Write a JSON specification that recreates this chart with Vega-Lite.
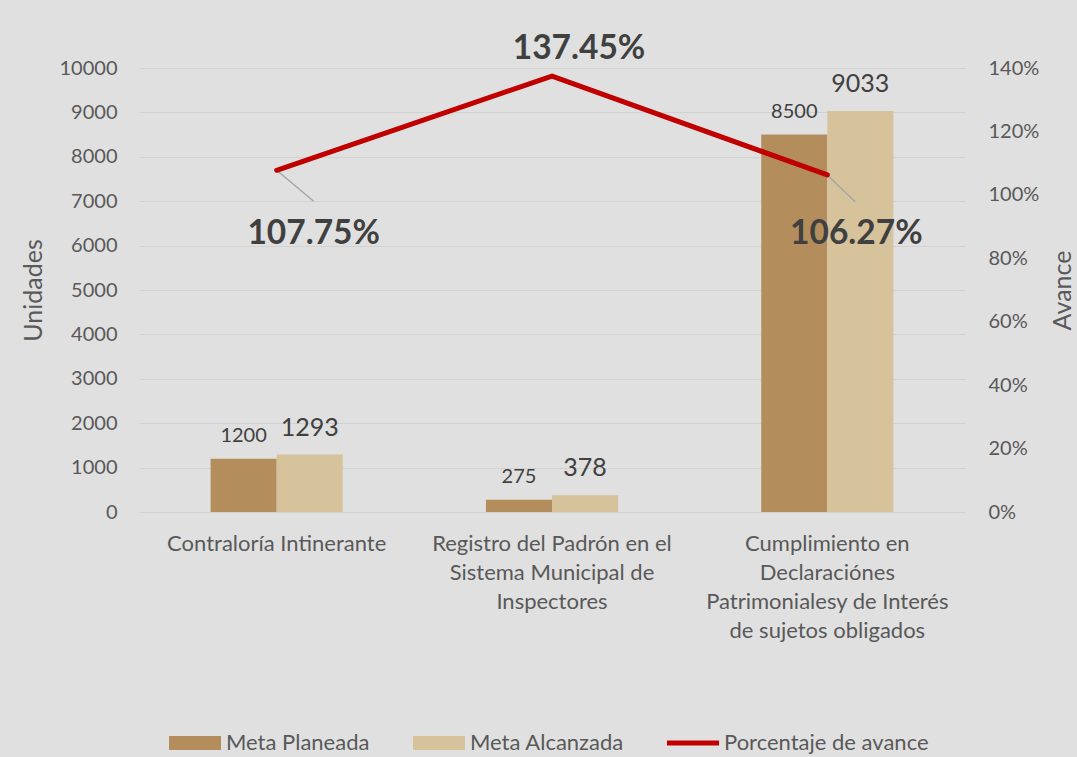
{
  "$schema": "https://vega.github.io/schema/vega-lite/v6.json",
  "width": 826,
  "height": 444,
  "autosize": {"type": "none"},
  "padding": {"left": 139, "top": 68, "right": 112, "bottom": 245},
  "background": "#e0e0e0",
  "config": {
    "view": {"stroke": null},
    "font": "Lato",
    "axis": {
      "labelFont": "Lato",
      "labelFontSize": 20,
      "labelColor": "#595959",
      "titleFont": "Lato",
      "titleFontSize": 25,
      "titleFontWeight": "normal",
      "titleColor": "#595959",
      "domain": false,
      "ticks": false,
      "grid": false
    }
  },
  "datasets": {
    "metas": [
      {"categoria": "Contraloría Intinerante", "serie": "Meta Planeada", "valor": 1200},
      {"categoria": "Contraloría Intinerante", "serie": "Meta Alcanzada", "valor": 1293},
      {"categoria": "Registro del Padrón en el|Sistema Municipal de|Inspectores", "serie": "Meta Planeada", "valor": 275},
      {"categoria": "Registro del Padrón en el|Sistema Municipal de|Inspectores", "serie": "Meta Alcanzada", "valor": 378},
      {"categoria": "Cumplimiento en|Declaraciónes|Patrimonialesy de Interés|de sujetos obligados", "serie": "Meta Planeada", "valor": 8500},
      {"categoria": "Cumplimiento en|Declaraciónes|Patrimonialesy de Interés|de sujetos obligados", "serie": "Meta Alcanzada", "valor": 9033}
    ],
    "avance": [
      {"categoria": "Contraloría Intinerante", "serie": "Porcentaje de avance", "pct": 1.0775, "idx": 1},
      {"categoria": "Registro del Padrón en el|Sistema Municipal de|Inspectores", "serie": "Porcentaje de avance", "pct": 1.3745, "idx": 2},
      {"categoria": "Cumplimiento en|Declaraciónes|Patrimonialesy de Interés|de sujetos obligados", "serie": "Porcentaje de avance", "pct": 1.0627, "idx": 3}
    ]
  },
  "encoding": {
    "x": {
      "field": "categoria",
      "type": "nominal",
      "scale": {
        "domain": [
          "Contraloría Intinerante",
          "Registro del Padrón en el|Sistema Municipal de|Inspectores",
          "Cumplimiento en|Declaraciónes|Patrimonialesy de Interés|de sujetos obligados"
        ],
        "paddingInner": 0.52,
        "paddingOuter": 0.26
      },
      "axis": {
        "title": null,
        "labelAngle": 0,
        "labelExpr": "split(datum.label, '|')",
        "labelFontSize": 22,
        "labelLineHeight": 29,
        "labelPadding": 21,
        "labelLimit": 340,
        "labelAlign": "center",
        "labelBaseline": "top"
      }
    }
  },
  "layer": [
    {
      "data": {"name": "metas"},
      "layer": [
        {
          "mark": {"type": "bar"},
          "encoding": {
            "xOffset": {"field": "serie", "type": "nominal", "scale": {"domain": ["Meta Planeada", "Meta Alcanzada"], "paddingInner": 0, "paddingOuter": 0}},
            "y": {
              "field": "valor",
              "type": "quantitative",
              "scale": {"domain": [0, 10000]},
              "axis": {
                "title": "Unidades",
                "orient": "left",
                "values": [0, 1000, 2000, 3000, 4000, 5000, 6000, 7000, 8000, 9000, 10000],
                "format": "d",
                "grid": true,
                "gridColor": "#d2d2d2",
                "gridWidth": 1,
                "labelPadding": 22,
                "titleAngle": -90,
                "titleX": -106,
                "titleY": 222,
                "titleAlign": "center",
                "titleBaseline": "middle"
              }
            },
            "color": {
              "field": "serie",
              "type": "nominal",
              "scale": {
                "domain": ["Meta Planeada", "Meta Alcanzada", "Porcentaje de avance"],
                "range": ["#B38D5B", "#D6C29B", "#C00000"]
              },
              "legend": {
                "orient": "none",
                "direction": "horizontal",
                "legendX": 30,
                "legendY": 649,
                "title": null,
                "symbolSize": 2704,
                "labelFontSize": 22,
                "labelFont": "Lato",
                "labelColor": "#595959",
                "labelOffset": 5,
                "columnPadding": 43,
                "labelLimit": 300,
                "encode": {
                  "symbols": {
                    "update": {
                      "shape": [
                        {"test": "datum.value === 'Porcentaje de avance'", "value": "M-1,-0.1H1V0.1H-1Z"},
                        {"value": "M-1,-0.27H1V0.27H-1Z"}
                      ],
                      "fill": {"scale": "color", "field": "value"},
                      "stroke": {"value": "transparent"},
                      "strokeWidth": {"value": 0},
                      "opacity": {"value": 1}
                    }
                  }
                }
              }
            }
          }
        },
        {
          "transform": [{"filter": "datum.serie === 'Meta Planeada'"}],
          "mark": {"type": "text", "fontSize": 20, "color": "#404040", "baseline": "alphabetic", "dy": -17},
          "encoding": {
            "xOffset": {"field": "serie", "type": "nominal", "scale": {"domain": ["Meta Planeada", "Meta Alcanzada"], "paddingInner": 0, "paddingOuter": 0}},
            "y": {"field": "valor", "type": "quantitative"},
            "text": {"field": "valor", "type": "quantitative", "format": "d"}
          }
        },
        {
          "transform": [{"filter": "datum.serie === 'Meta Alcanzada'"}],
          "mark": {"type": "text", "fontSize": 25, "color": "#404040", "baseline": "alphabetic", "dy": -19},
          "encoding": {
            "xOffset": {"field": "serie", "type": "nominal", "scale": {"domain": ["Meta Planeada", "Meta Alcanzada"], "paddingInner": 0, "paddingOuter": 0}},
            "y": {"field": "valor", "type": "quantitative"},
            "text": {"field": "valor", "type": "quantitative", "format": "d"}
          }
        }
      ]
    },
    {
      "data": {"name": "avance"},
      "layer": [
        {
          "transform": [{"filter": "datum.idx === 1"}],
          "mark": {"type": "rule", "color": "#a6a6a6", "strokeWidth": 1.5, "x2Offset": 37, "y2Offset": 31},
          "encoding": {
            "x": {"field": "categoria", "type": "nominal", "bandPosition": 0.5},
            "x2": {"field": "categoria", "bandPosition": 0.5},
            "y": {"field": "pct", "type": "quantitative"},
            "y2": {"field": "pct"}
          }
        },
        {
          "transform": [{"filter": "datum.idx === 3"}],
          "mark": {"type": "rule", "color": "#a6a6a6", "strokeWidth": 1.5, "x2Offset": 28, "y2Offset": 27},
          "encoding": {
            "x": {"field": "categoria", "type": "nominal", "bandPosition": 0.5},
            "x2": {"field": "categoria", "bandPosition": 0.5},
            "y": {"field": "pct", "type": "quantitative"},
            "y2": {"field": "pct"}
          }
        },
        {
          "mark": {"type": "line", "strokeWidth": 5, "strokeCap": "round", "strokeJoin": "round"},
          "encoding": {
            "y": {
              "field": "pct",
              "type": "quantitative",
              "scale": {"domain": [0, 1.4]},
              "axis": {
                "title": "Avance",
                "orient": "right",
                "values": [0, 0.2, 0.4, 0.6, 0.8, 1.0, 1.2, 1.4],
                "format": ".0%",
                "labelPadding": 23,
                "titleAngle": -90,
                "titleX": 97,
                "titleY": 222,
                "titleAlign": "center",
                "titleBaseline": "middle"
              }
            },
            "color": {
              "field": "serie",
              "type": "nominal"
            }
          }
        },
        {
          "transform": [{"filter": "datum.idx === 1"}],
          "mark": {"type": "text", "fontSize": 33.5, "fontWeight": "bold", "color": "#404040", "baseline": "alphabetic", "dx": 37, "dy": 74},
          "encoding": {
            "y": {"field": "pct", "type": "quantitative"},
            "text": {"field": "pct", "type": "quantitative", "format": ".2%"}
          }
        },
        {
          "transform": [{"filter": "datum.idx === 2"}],
          "mark": {"type": "text", "fontSize": 33.5, "fontWeight": "bold", "color": "#404040", "baseline": "alphabetic", "dx": 27, "dy": -17},
          "encoding": {
            "y": {"field": "pct", "type": "quantitative"},
            "text": {"field": "pct", "type": "quantitative", "format": ".2%"}
          }
        },
        {
          "transform": [{"filter": "datum.idx === 3"}],
          "mark": {"type": "text", "fontSize": 33.5, "fontWeight": "bold", "color": "#404040", "baseline": "alphabetic", "dx": 29, "dy": 69},
          "encoding": {
            "y": {"field": "pct", "type": "quantitative"},
            "text": {"field": "pct", "type": "quantitative", "format": ".2%"}
          }
        }
      ]
    }
  ],
  "resolve": {"scale": {"y": "independent"}}
}
